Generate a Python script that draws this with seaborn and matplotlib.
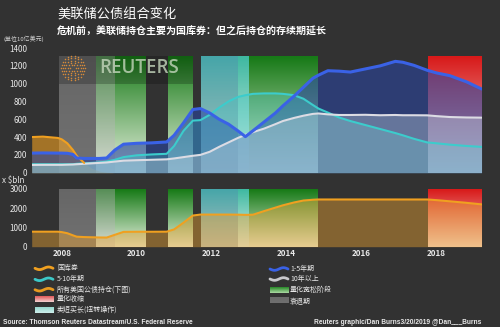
import numpy as np
import pandas as pd
import matplotlib
matplotlib.use("Agg")
import matplotlib.pyplot as plt
import seaborn as sns
from matplotlib.colors import to_rgb
from matplotlib.patches import Rectangle

# ---------------- data ----------------
years = [2007.2, 2007.5, 2007.9, 2008.0, 2008.15, 2008.3, 2008.4, 2008.6, 2008.8, 2009.0,
         2009.2, 2009.42, 2009.65, 2010.0, 2010.4, 2010.8, 2011.0, 2011.25, 2011.5, 2011.7,
         2011.95, 2012.2, 2012.45, 2012.7, 2012.9, 2013.1, 2013.4, 2013.7, 2013.9, 2014.2,
         2014.45, 2014.7, 2014.85, 2015.1, 2015.4, 2015.7, 2016.1, 2016.5, 2016.9, 2017.1,
         2017.4, 2017.75, 2018.0, 2018.35, 2018.8, 2019.2]

bills = [400, 405, 390, 375, 330, 255, 190, 110, 50, 18,
         5, 0] + [np.nan] * 34

notes_1_5 = [220, 222, 220, 220, 218, 205, 165, 160, 160, 160,
             165, 255, 320, 330, 335, 345, 420, 560, 710, 720,
             670, 600, 545, 470, 405, 470, 570, 670, 750, 860,
             960, 1060, 1095, 1145, 1140, 1130, 1165, 1200, 1250, 1240,
             1205, 1150, 1120, 1090, 1020, 940]

notes_5_10 = [95, 95, 95, 95, 95, 95, 100, 105, 110, 115,
              125, 145, 175, 195, 205, 212, 300, 470, 585, 590,
              650, 730, 800, 850, 870, 885, 890, 890, 885, 870,
              830, 760, 720, 675, 620, 580, 535, 490, 445, 420,
              380, 340, 330, 315, 300, 290]

bonds_10p = [87, 88, 88, 88, 90, 92, 95, 100, 105, 110,
             115, 125, 135, 140, 145, 150, 160, 175, 190, 200,
             235, 290, 340, 390, 425, 455, 495, 545, 580, 615,
             640, 660, 665, 655, 648, 648, 650, 645, 648, 645,
             645, 644, 635, 625, 620, 618]

total_holdings = [780, 780, 780, 760, 700, 590, 520, 500, 490, 480,
                  475, 620, 770, 777, 777, 780, 900, 1250, 1620, 1670,
                  1670, 1670, 1670, 1665, 1655, 1660, 1850, 2030, 2150, 2300,
                  2400, 2440, 2455, 2455, 2455, 2455, 2455, 2455, 2455, 2455,
                  2455, 2455, 2420, 2360, 2280, 2200]

qe_periods = [(2008.91, 2010.24), (2010.83, 2011.49), (2012.71, 2014.83)]
twist_periods = [(2011.72, 2013.0)]
qt_periods = [(2017.78, 2019.22)]
recession_periods = [(2007.93, 2009.42)]

year_ticks = [2008, 2010, 2012, 2014, 2016, 2018]
top_ticks = [0, 200, 400, 600, 800, 1000, 1200, 1400]
bottom_ticks = [0, 1000, 2000, 3000]

title = "美联储公债组合变化"
subtitle = "危机前，美联储持仓主要为国库券：但之后持仓的存续期延长"
legend_left = ["国库券", "5-10年期", "所有美国公债持仓(下图)", "量化收缩", "卖短买长(扭转操作)"]
legend_right = ["1-5年期", "10年以上", "量化宽松阶段", "衰退期"]

# ---------------- style ----------------
BG = "#323232"
TXT = "#e8e8e8"
sns.set_theme(style="dark", rc={"figure.facecolor": BG, "axes.facecolor": BG,
                                "axes.edgecolor": BG, "text.color": TXT,
                                "xtick.color": TXT, "ytick.color": TXT})
plt.rcParams["font.family"] = ["Noto Sans CJK SC", "DejaVu Sans"]

W, H = 500, 327
fig = plt.figure(figsize=(W / 100, H / 100), dpi=100)


def fx(x):
    return x / W


def fy(y):
    return 1 - y / H


XL = (2007.2, 2019.22)
ax_top = fig.add_axes([fx(31.7), fy(172.7), fx(482.3) - fx(31.7), fy(48) - fy(172.7)])
ax_bot = fig.add_axes([fx(31.7), fy(246.7), fx(482.3) - fx(31.7), fy(189) - fy(246.7)])


def band(ax, x0, x1, ytop, top, bottom, alpha, z):
    t = np.array(to_rgb(top))
    b = np.array(to_rgb(bottom))
    f = np.linspace(0, 1, 64)[:, None]
    rgb = t * (1 - f) + b * f
    rgba = np.concatenate([rgb, np.full((64, 1), alpha)], axis=1)[:, None, :]
    ax.imshow(rgba, extent=(x0, x1, 0, ytop), origin="upper", aspect="auto",
              interpolation="bilinear", zorder=z)


def draw_bands(ax, ytop):
    for a, b in qe_periods:
        band(ax, a, b, ytop, "#177a17", "#e6f0de", 1.0, 0.5)
    for a, b in twist_periods:
        band(ax, a, b, ytop, "#4ed0d4", "#e0f6f2", 0.74, 0.6)
    for a, b in qt_periods:
        band(ax, a, b, ytop, "#d81a1a", "#f6dcd6", 1.0, 0.5)
    for a, b in recession_periods:
        band(ax, a, b, ytop, "#a8a8a8", "#c0c0c0", 0.45, 0.7)


draw_bands(ax_top, 1310)
draw_bands(ax_bot, 3000)

df = pd.DataFrame({"year": years, "bills": bills, "n15": notes_1_5, "n510": notes_5_10,
                   "b10": bonds_10p, "total": total_holdings})

# fills (top)
ax_top.fill_between(df.year, 0, df.bills.fillna(0), color="#f0a020", alpha=0.6, lw=0, zorder=2)
ax_top.fill_between(df.year, 0, df.n15, color="#2a46a0", alpha=0.6, lw=0, zorder=2.1)
ax_top.fill_between(df.year, 0, df.n510, color="#40c8c8", alpha=0.3, lw=0, zorder=2.2)
ax_top.fill_between(df.year, 0, df.b10, color="#d0e0e8", alpha=0.35, lw=0, zorder=2.3)

# lines (top)
sns.lineplot(data=df, x="year", y="n510", ax=ax_top, color="#3ccccc", linewidth=1.5, zorder=3, legend=False)
sns.lineplot(data=df, x="year", y="b10", ax=ax_top, color="#dcdce4", linewidth=1.5, zorder=3.1, legend=False)
sns.lineplot(data=df[df.bills >= 100], x="year", y="bills", ax=ax_top, color="#f0a020",
             linewidth=1.5, zorder=3.2, legend=False)
sns.lineplot(data=df, x="year", y="n15", ax=ax_top, color="#3a62e6", linewidth=2.2, zorder=3.3, legend=False)

# bottom
ax_bot.fill_between(df.year, 0, df.total, color="#e8a030", alpha=0.45, lw=0, zorder=2)
sns.lineplot(data=df, x="year", y="total", ax=ax_bot, color="#f0a020", linewidth=1.5, zorder=3, legend=False)

# logo overlay
ax_top.add_patch(Rectangle((2007.93, 1000), 2011.49 - 2007.93, 310, color="black", alpha=0.22, lw=0, zorder=1.5))

for ax, yl, ticks in [(ax_top, (0, 1400), top_ticks), (ax_bot, (0, 3000), bottom_ticks)]:
    ax.set_xlim(*XL)
    ax.set_ylim(*yl)
    ax.set_yticks(ticks)
    ax.set_yticklabels([str(t) for t in ticks], fontsize=5.8, color=TXT)
    ax.set_xlabel("")
    ax.set_ylabel("")
    ax.grid(False)
    for s in ax.spines.values():
        s.set_visible(False)
    ax.tick_params(axis="both", length=0, pad=3)

ax_top.set_xticks([])
ax_bot.set_xticks(year_ticks)
ax_bot.set_xticklabels([str(y) for y in year_ticks], fontsize=5.8, color=TXT, fontweight="bold")
ax_bot.tick_params(axis="x", pad=2)

# Reuters logo
lg = fig.add_axes([fx(60), fy(81), fx(26), fy(55) - fy(81)])
lg.set_xlim(-1.1, 1.1)
lg.set_ylim(-1.1, 1.1)
lg.axis("off")
for r, n in [(0.25, 6), (0.45, 10), (0.65, 14), (0.85, 18), (1.0, 22)]:
    th = np.linspace(0, 2 * np.pi, n, endpoint=False)
    lg.scatter(r * np.cos(th), r * np.sin(th), s=1.2, color="#d68a3a", lw=0)
fig.text(fx(99), fy(68), "REUTERS", fontsize=13.5, family="Open Sans", fontweight="semibold",
         color="#c4d6bc", alpha=0.8, va="center", ha="left")

# titles
fig.text(fx(57), fy(15), title, fontsize=9.5, color="white", va="center", ha="left")
fig.text(fx(57), fy(32), subtitle, fontsize=7.2, color="white", va="center", ha="left", fontweight="bold")
fig.text(fx(24), fy(38.5), "(单位10亿美元)", fontsize=4.3, color="#d0d0d0", va="center", ha="center")
fig.text(fx(2), fy(180), "x $bln", fontsize=5.8, color=TXT, va="center", ha="left")

# legend


def wavy(x0, y0, color):
    t = np.linspace(0, 1, 40)
    xs = fx(x0 + 18 * t)
    ys = fy(y0 + 1.3 * np.sin(t * 2 * np.pi))
    fig.add_artist(plt.Line2D(xs, ys, color=color, lw=2.0, transform=fig.transFigure))


def grad_swatch(x0, y0, top, bottom):
    a = fig.add_axes([fx(x0), fy(y0 + 3), fx(18), fy(y0 - 3) - fy(y0 + 3)])
    t = np.array(to_rgb(top))
    b = np.array(to_rgb(bottom))
    f = np.linspace(0, 1, 16)[:, None]
    a.imshow((t * (1 - f) + b * f)[:, None, :], aspect="auto", extent=(0, 1, 0, 1), origin="upper")
    a.axis("off")


LFS = 5.0
lrows = [268.3, 279.3, 289.7, 299.3, 310]
wavy(35, lrows[0], "#f0a020")
wavy(35, lrows[1], "#3cc8c8")
wavy(35, lrows[2], "#e89a20")
grad_swatch(35, lrows[3], "#e05a5a", "#f4d0d0")
grad_swatch(35, lrows[4], "#8fd6cc", "#cdeeea")
for y, s in zip(lrows, legend_left):
    fig.text(fx(57), fy(y), s, fontsize=LFS, color=TXT, va="center", ha="left")

rrows = [269, 279, 290.3, 300]
wavy(270, rrows[0], "#3a62e6")
wavy(270, rrows[1], "#c8c8cc")
grad_swatch(270, rrows[2], "#2a8a2a", "#a8d8a0")
grad_swatch(270, rrows[3], "#6a6a6a", "#707070")
for y, s in zip(rrows, legend_right):
    fig.text(fx(290), fy(y + (2 if s == "衰退期" else 0)), s, fontsize=LFS, color=TXT, va="center", ha="left")

fig.text(fx(3), fy(322), "Source: Thomson Reuters Datastream/U.S. Federal Reserve", fontsize=4.8,
         family="Liberation Sans", fontweight="bold", color=TXT, va="center", ha="left")
fig.text(fx(481), fy(322), "Reuters graphic/Dan Burns3/20/2019 @Dan___Burns", fontsize=4.8,
         family="Liberation Sans", fontweight="bold", color=TXT, va="center", ha="right")

fig.savefig("out.png", dpi=100, facecolor=BG)
